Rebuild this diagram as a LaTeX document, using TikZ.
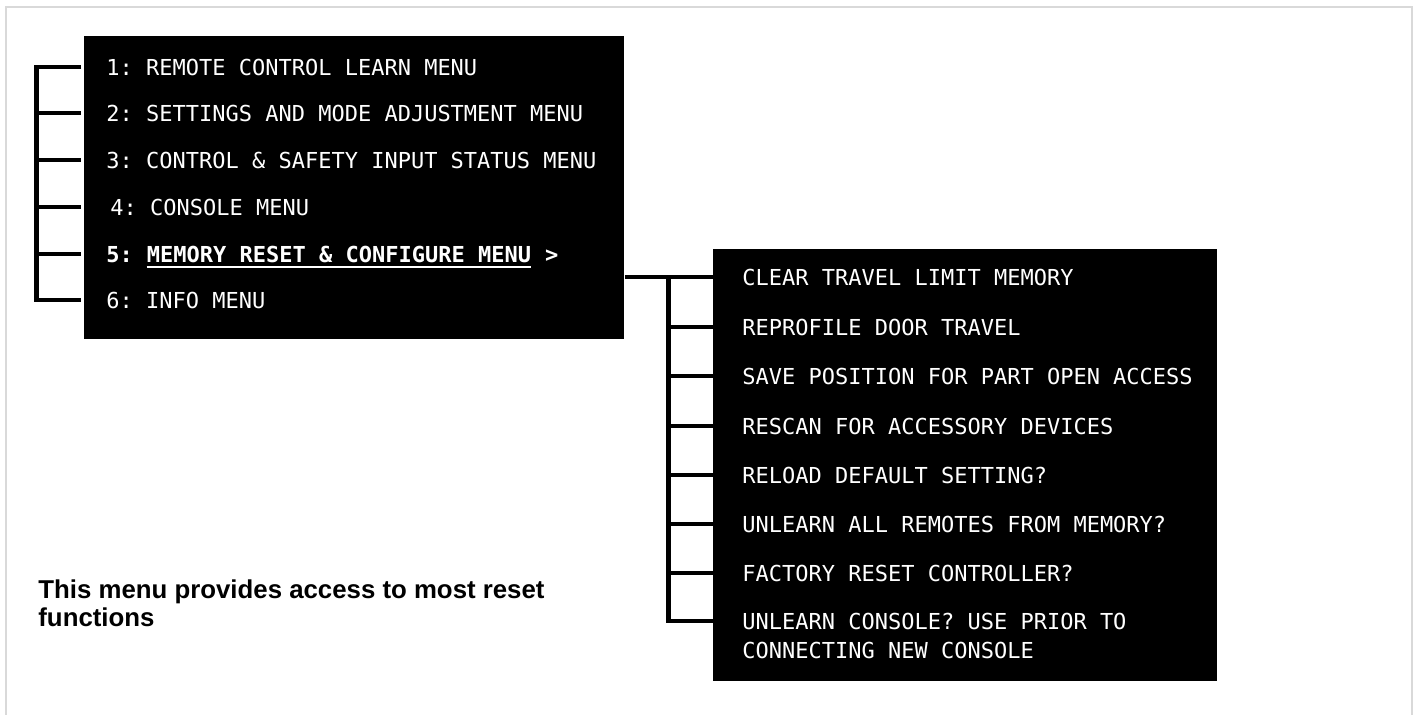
\documentclass[tikz,border=0pt]{standalone}
\usepackage{fontspec}
\setmonofont{DejaVu Sans Mono}
\newfontfamily\notefont{Liberation Sans}
\usetikzlibrary{positioning}

\tikzset{
            menubox/.style={fill=black, draw=none, inner sep=0pt, anchor=north west},
            entry/.style={text=white, font=\ttfamily\fontsize{11}{13}\selectfont,
                          inner sep=0pt, text height=8pt, text depth=0pt, anchor=west},
            entrybold/.style={entry, font=\ttfamily\bfseries\fontsize{11}{13}\selectfont},
            bracket/.style={line width=2.2pt, line join=miter},
            note/.style={font=\notefont\bfseries\fontsize{12.9}{14}\selectfont,
                         align=left, inner sep=0pt, anchor=north west}
        }

\begin{document}
\begin{tikzpicture}[x=0.5pt, y=-0.5pt]
                \useasboundingbox (0,0) rectangle (1416,714);
                % frame
                \draw[black!15, line width=1pt] (6,720) -- (6,7) -- (1412,7) -- (1412,720);

                % boxes
                \node[menubox, minimum width=270pt, minimum height=151.5pt] (mainbox) at (84,36) {};
                \node[menubox, minimum width=252pt, minimum height=216pt] (subbox) at (713,249) {};

                % main menu
                \node[entry] (item1) at (106,67) {1: REMOTE CONTROL LEARN MENU};
                \node[entry] (item2) at (106,113) {2: SETTINGS AND MODE ADJUSTMENT MENU};
                \node[entry] (item3) at (106,160) {3: CONTROL \& SAFETY INPUT STATUS MENU};
                \node[entry] (item4) at (110,207) {4: CONSOLE MENU};
                \node[entrybold] (item5) at (106,254) {5:};
                \node[entrybold, base right=6.62pt of item5] (menu5) {MEMORY RESET \& CONFIGURE MENU};
                \node[entrybold, base right=6.62pt of menu5] (more5) {>};
                \node[entry] (item6) at (106,300) {6: INFO MENU};
                \draw[white, line width=1pt] ([yshift=-2.5pt]menu5.base west) -- ([yshift=-2.5pt]menu5.base east);

                % sub menu
                \node[entry] (sub1) at (742,277) {CLEAR TRAVEL LIMIT MEMORY};
                \node[entry] (sub2) at (742,327) {REPROFILE DOOR TRAVEL};
                \node[entry] (sub3) at (742,376) {SAVE POSITION FOR PART OPEN ACCESS};
                \node[entry] (sub4) at (742,426) {RESCAN FOR ACCESSORY DEVICES};
                \node[entry] (sub5) at (742,475) {RELOAD DEFAULT SETTING?};
                \node[entry] (sub6) at (742,524) {UNLEARN ALL REMOTES FROM MEMORY?};
                \node[entry] (sub7) at (742,573) {FACTORY RESET CONTROLLER?};
                \node[entry] (sub8) at (742,621) {UNLEARN CONSOLE? USE PRIOR TO};
                \node[entry] (sub8b) at ([yshift=-14.5pt]sub8.west) {CONNECTING NEW CONSOLE};

                % brackets
                \coordinate (spineL) at (36.5,0);
                \coordinate (spineR) at (668.5,0);
                \draw[bracket, shorten <=1.5pt, shorten >=1.5pt] (mainbox.west |- item1.west) -- (spineL |- item1.west)
                    -- (spineL |- item6.west) -- (mainbox.west |- item6.west);
                \foreach \i in {2,...,5}
                    \draw[bracket, shorten >=1.5pt] (spineL |- item\i.west) -- (mainbox.west |- item\i.west);
                \draw[bracket] (mainbox.east |- sub1.west) -- (subbox.west |- sub1.west);
                \draw[bracket] (spineR |- sub1.west) -- (spineR |- sub8.west) -- (subbox.west |- sub8.west);
                \foreach \i in {2,...,7}
                    \draw[bracket] (spineR |- sub\i.west) -- (subbox.west |- sub\i.west);

                % caption
                \node[note] (note) at (38,579) {This menu provides access to most reset\\functions};
\end{tikzpicture}
\end{document}
